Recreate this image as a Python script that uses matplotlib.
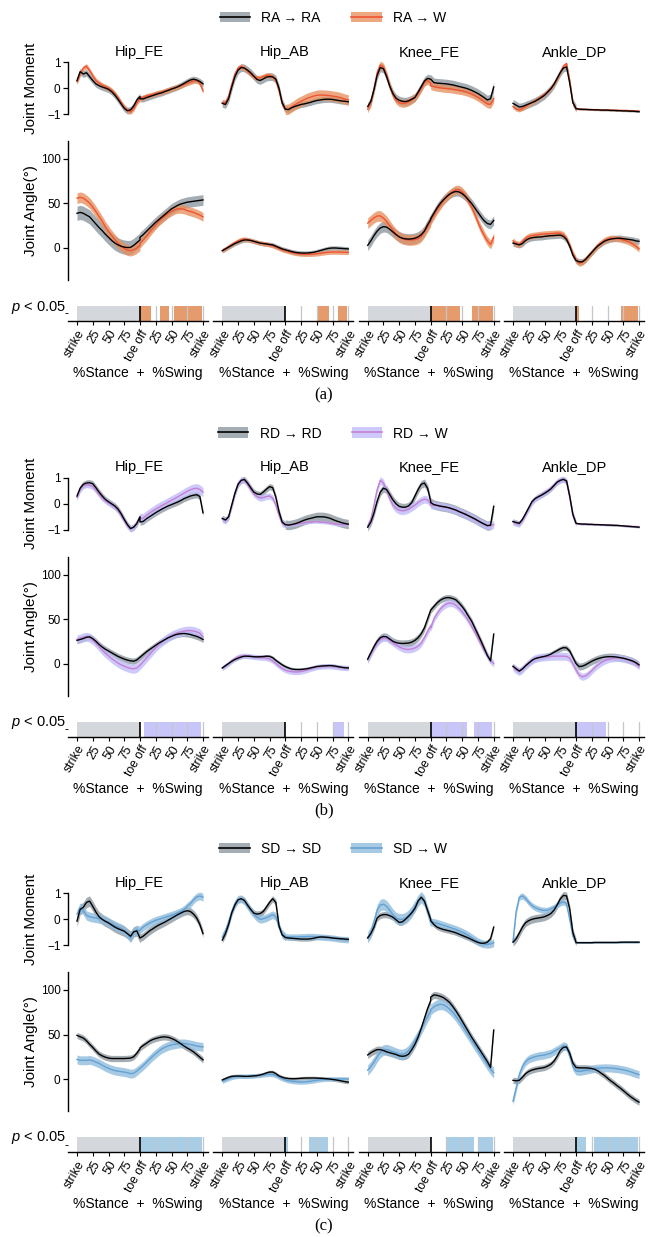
import numpy as np
import matplotlib
matplotlib.use("Agg")
import matplotlib.pyplot as plt
from matplotlib.patches import Patch
from matplotlib.lines import Line2D

plt.rcParams['font.family'] = ['Liberation Sans', 'DejaVu Sans']
plt.rcParams['mathtext.fontset'] = 'custom'
plt.rcParams['mathtext.it'] = 'Liberation Sans:italic'
plt.rcParams['mathtext.rm'] = 'Liberation Sans'

# ---------------------------------------------------------------------------
# Gait-cycle samples: stance 0..100 %, swing 100..200 % (every 5 %)
# Each curve lists 21 stance values followed by 21 swing values.
# ---------------------------------------------------------------------------
STANCE = np.arange(0, 101, 5)
SWING = np.arange(100, 201, 5)
PHASE = np.concatenate([STANCE, SWING])

JOINTS = ["Hip_FE", "Hip_AB", "Knee_FE", "Ankle_DP"]
TICK_POS = [0, 25, 50, 75, 100, 125, 150, 175, 200]
TICK_LABELS = ["strike", "25", "50", "75", "toe off", "25", "50", "75", "strike"]

# ----------------------------- (a) ramp ascent -----------------------------
ra_hip_fe_mom_ref = [0.30, 0.64, 0.55, 0.60, 0.45, 0.30, 0.17, 0.10, 0.05, 0.01, -0.04, -0.13, -0.26, -0.42, -0.60, -0.77, -0.86, -0.83, -0.68, -0.45, -0.32,
                     -0.40, -0.41, -0.36, -0.32, -0.28, -0.24, -0.20, -0.17, -0.12, -0.08, -0.03, 0.01, 0.06, 0.12, 0.19, 0.26, 0.32, 0.35, 0.32, 0.26, 0.17]
ra_hip_fe_mom_w = [0.25, 0.55, 0.78, 0.85, 0.68, 0.48, 0.30, 0.20, 0.12, 0.06, 0.00, -0.08, -0.20, -0.36, -0.55, -0.72, -0.86, -0.90, -0.78, -0.55, -0.40,
                   -0.38, -0.35, -0.30, -0.27, -0.24, -0.20, -0.17, -0.14, -0.10, -0.06, -0.02, 0.02, 0.06, 0.10, 0.15, 0.20, 0.24, 0.28, 0.30, 0.20, -0.10]
ra_hip_ab_mom_ref = [-0.58, -0.62, -0.40, 0.05, 0.45, 0.70, 0.80, 0.78, 0.70, 0.60, 0.47, 0.34, 0.30, 0.36, 0.43, 0.45, 0.44, 0.35, 0.00, -0.55, -0.80,
                     -0.80, -0.82, -0.75, -0.70, -0.66, -0.62, -0.60, -0.57, -0.54, -0.50, -0.47, -0.45, -0.43, -0.42, -0.42, -0.43, -0.45, -0.47, -0.49, -0.50, -0.52]
ra_hip_ab_mom_w = [-0.55, -0.55, -0.30, 0.15, 0.55, 0.78, 0.84, 0.78, 0.66, 0.55, 0.45, 0.40, 0.40, 0.45, 0.50, 0.50, 0.45, 0.30, -0.10, -0.60, -0.82,
                   -0.82, -0.80, -0.72, -0.64, -0.56, -0.50, -0.44, -0.38, -0.34, -0.30, -0.27, -0.26, -0.26, -0.27, -0.28, -0.30, -0.32, -0.34, -0.38, -0.42, -0.45]
ra_knee_fe_mom_ref = [-0.70, -0.50, -0.05, 0.50, 0.80, 0.75, 0.45, 0.08, -0.20, -0.38, -0.46, -0.50, -0.51, -0.48, -0.42, -0.35, -0.15, 0.06, 0.28, 0.38, 0.35,
                      0.35, 0.22, 0.20, 0.19, 0.18, 0.17, 0.15, 0.13, 0.10, 0.07, 0.04, 0.01, -0.03, -0.08, -0.14, -0.20, -0.28, -0.36, -0.45, -0.40, 0.05]
ra_knee_fe_mom_w = [-0.80, -0.55, 0.00, 0.60, 0.90, 0.82, 0.50, 0.10, -0.25, -0.45, -0.55, -0.58, -0.57, -0.52, -0.45, -0.35, -0.20, 0.00, 0.22, 0.30, 0.20,
                    0.10, 0.06, 0.04, 0.02, 0.00, -0.01, -0.02, -0.04, -0.06, -0.08, -0.10, -0.13, -0.17, -0.22, -0.28, -0.35, -0.43, -0.52, -0.60, -0.62, -0.40]
ra_ankle_dp_mom_ref = [-0.58, -0.65, -0.72, -0.70, -0.65, -0.60, -0.55, -0.50, -0.43, -0.35, -0.27, -0.15, -0.02, 0.15, 0.38, 0.60, 0.78, 0.82, 0.20, -0.55, -0.77,
                       -0.78, -0.80, -0.81, -0.81, -0.82, -0.82, -0.83, -0.83, -0.84, -0.84, -0.84, -0.85, -0.85, -0.86, -0.86, -0.87, -0.87, -0.88, -0.88, -0.89, -0.90]
ra_ankle_dp_mom_w = [-0.70, -0.80, -0.83, -0.78, -0.70, -0.62, -0.55, -0.48, -0.40, -0.32, -0.23, -0.12, 0.00, 0.15, 0.35, 0.60, 0.85, 0.95, 0.30, -0.55, -0.80,
                     -0.80, -0.80, -0.80, -0.81, -0.81, -0.82, -0.82, -0.82, -0.83, -0.83, -0.83, -0.84, -0.84, -0.84, -0.85, -0.85, -0.85, -0.86, -0.86, -0.87, -0.87]

ra_hip_fe_ang_ref = [39, 40, 39, 37, 35, 31, 27, 23, 19.5, 15.5, 12, 8.5, 5.6, 3.5, 2, 1, 0.5, 0.7, 3, 6, 9,
                     12, 15, 18.5, 22, 25.5, 29, 32, 35, 38, 41, 44, 46, 48, 49.5, 50.5, 51.5, 52, 52.5, 53, 53.5, 54]
ra_hip_fe_ang_w = [56, 57, 56, 53.5, 50.5, 46, 41, 35.5, 30, 24, 18.7, 14, 9.5, 5.5, 2, -0.5, -2.5, -3, -2, 0, 3,
                   5, 9, 13, 17.5, 22, 26, 30, 33, 36, 39, 41, 43, 44, 44, 43.5, 42, 41, 40, 38.5, 37, 35]
ra_hip_ab_ang_ref = [-3, -1, 1, 3, 5, 6.5, 8, 9, 9, 8.5, 7.5, 6.5, 5.5, 5, 4.5, 4, 3.5, 2, 0.5, -1, -2,
                     -2, -3, -4, -4.8, -5.3, -5.6, -5.7, -5.6, -5.3, -4.8, -4, -3, -2, -1, -0.3, 0, 0, -0.3, -0.5, -0.8, -1]
ra_hip_ab_ang_w = [-3, -1, 1.5, 4, 6, 8, 9.5, 10, 9.5, 8.5, 7.5, 6.5, 5.5, 5, 4.5, 3.5, 2.5, 1, -0.5, -2, -3,
                   -3, -4, -5, -5.8, -6.4, -6.8, -7, -7, -7, -6.8, -6.5, -6, -5.5, -5, -4.7, -4.5, -4.5, -4.6, -4.7, -4.8, -5]
ra_knee_fe_ang_ref = [3, 8, 14, 19, 22.5, 24, 23.5, 21, 18, 15, 12.5, 11, 10.3, 10, 10.3, 11, 12.5, 15, 19, 26, 32,
                      33, 39, 45, 50, 54, 57.5, 60.5, 62.5, 63.5, 63, 61, 58, 54, 50, 45, 40, 35, 30.5, 27.5, 26.5, 31]
ra_knee_fe_ang_w = [28, 31, 34, 36, 36, 33.5, 30, 25, 20, 15.5, 12.5, 10.5, 9.5, 9, 9, 9.5, 10.5, 13, 18, 24, 30,
                    31, 37, 43, 48, 53, 57, 60.5, 63.5, 65.5, 65.5, 63, 59, 53, 46, 38, 29, 21, 14, 8, 4, 12]
ra_ankle_dp_ang_ref = [5.5, 4.5, 3.5, 5, 8.5, 10.5, 11.5, 12, 12.3, 12.5, 13, 13.5, 13.8, 14, 14.3, 14.5, 13, 9.5, 2, -8, -14,
                       -14, -15.5, -15.5, -13, -9, -5, -1, 2.5, 5, 7.5, 9, 10, 10.5, 11, 11, 10.5, 10, 9.5, 9, 8, 7.5]
ra_ankle_dp_ang_w = [8, 4.5, 4, 7.5, 11, 13, 14, 14.5, 15, 15.5, 15.8, 16, 16.2, 16.5, 16.8, 16.5, 15, 10.5, 3, -6, -13,
                     -14, -17, -16, -13, -9, -5, -1, 3, 6, 8.5, 10, 11, 11, 10.5, 10, 9, 8, 6.5, 4.5, 2, -1]

# band half-widths per joint: (stance, swing)
ra_mom_band_ref = [(0.13, 0.12), (0.15, 0.12), (0.16, 0.18), (0.15, 0.03)]
ra_mom_band_w = [(0.10, 0.10), (0.10, 0.20), (0.15, 0.15), (0.08, 0.03)]
ra_ang_band_ref = [(8, 6), (2.5, 2.5), (6, 5), (3.5, 3.5)]
ra_ang_band_w = [(6, 5), (2.5, 2.5), (6, 5), (3.5, 3.5)]
ra_sig = [[(100, 117), (132, 146), (154, 199)], [(150, 170), (184, 198)],
          [(100, 146), (166, 199)], [(100, 104), (172, 199)]]

# ----------------------------- (b) ramp descent ----------------------------
rd_hip_fe_mom_ref = [0.30, 0.60, 0.75, 0.80, 0.81, 0.77, 0.62, 0.45, 0.30, 0.17, 0.08, 0.00, -0.08, -0.20, -0.38, -0.60, -0.80, -0.95, -0.90, -0.76, -0.50,
                     -0.70, -0.68, -0.58, -0.50, -0.42, -0.34, -0.27, -0.20, -0.14, -0.08, -0.03, 0.02, 0.07, 0.13, 0.20, 0.25, 0.30, 0.33, 0.35, 0.28, -0.35]
rd_hip_fe_mom_w = [0.25, 0.55, 0.70, 0.74, 0.72, 0.66, 0.52, 0.36, 0.22, 0.12, 0.04, -0.04, -0.13, -0.26, -0.45, -0.65, -0.85, -0.97, -0.90, -0.72, -0.50,
                   -0.55, -0.55, -0.45, -0.36, -0.28, -0.20, -0.13, -0.06, 0.00, 0.07, 0.14, 0.20, 0.27, 0.34, 0.41, 0.48, 0.54, 0.58, 0.60, 0.55, 0.45]
rd_hip_ab_mom_ref = [-0.56, -0.62, -0.50, -0.05, 0.40, 0.75, 0.90, 0.94, 0.80, 0.62, 0.45, 0.38, 0.36, 0.45, 0.56, 0.66, 0.62, 0.25, -0.30, -0.70, -0.80,
                     -0.80, -0.82, -0.80, -0.77, -0.73, -0.68, -0.63, -0.59, -0.56, -0.53, -0.50, -0.50, -0.50, -0.52, -0.55, -0.60, -0.65, -0.69, -0.73, -0.76, -0.78]
rd_hip_ab_mom_w = [-0.60, -0.65, -0.50, -0.05, 0.42, 0.78, 0.92, 0.90, 0.75, 0.55, 0.38, 0.28, 0.22, 0.24, 0.28, 0.30, 0.22, -0.05, -0.45, -0.75, -0.82,
                   -0.82, -0.82, -0.80, -0.79, -0.77, -0.75, -0.73, -0.71, -0.70, -0.69, -0.69, -0.70, -0.71, -0.72, -0.74, -0.76, -0.78, -0.79, -0.80, -0.80, -0.80]
rd_knee_fe_mom_ref = [-0.90, -0.70, -0.35, 0.10, 0.45, 0.60, 0.55, 0.35, 0.15, 0.00, -0.10, -0.13, -0.13, -0.08, 0.05, 0.30, 0.55, 0.75, 0.80, 0.60, 0.10,
                      0.05, -0.03, -0.06, -0.09, -0.11, -0.13, -0.16, -0.20, -0.24, -0.30, -0.35, -0.40, -0.46, -0.52, -0.58, -0.65, -0.72, -0.78, -0.84, -0.82, -0.10]
rd_knee_fe_mom_w = [-0.85, -0.60, -0.05, 0.55, 0.90, 0.80, 0.50, 0.20, -0.05, -0.18, -0.25, -0.27, -0.25, -0.20, -0.13, -0.05, 0.05, 0.13, 0.18, 0.15, 0.00,
                    -0.05, -0.05, -0.07, -0.09, -0.11, -0.14, -0.17, -0.21, -0.25, -0.30, -0.35, -0.41, -0.47, -0.53, -0.60, -0.67, -0.73, -0.79, -0.84, -0.85, -0.80]
rd_ankle_dp_mom_ref = [-0.68, -0.72, -0.75, -0.60, -0.38, -0.15, 0.08, 0.20, 0.27, 0.33, 0.40, 0.48, 0.57, 0.70, 0.83, 0.90, 0.94, 0.88, 0.30, -0.40, -0.75,
                       -0.75, -0.77, -0.78, -0.78, -0.79, -0.79, -0.80, -0.80, -0.81, -0.81, -0.82, -0.82, -0.83, -0.83, -0.84, -0.85, -0.86, -0.87, -0.88, -0.89, -0.90]
rd_ankle_dp_mom_w = [-0.70, -0.75, -0.78, -0.62, -0.40, -0.18, 0.05, 0.18, 0.27, 0.35, 0.43, 0.50, 0.60, 0.72, 0.85, 0.92, 0.95, 0.85, 0.25, -0.45, -0.76,
                     -0.76, -0.77, -0.78, -0.78, -0.79, -0.79, -0.80, -0.80, -0.80, -0.81, -0.81, -0.82, -0.82, -0.83, -0.84, -0.85, -0.86, -0.86, -0.87, -0.87, -0.88]

rd_hip_fe_ang_ref = [26, 27, 28, 29.5, 30, 28, 25, 21.5, 18.5, 16, 14, 12, 10, 8, 6.5, 5, 3.8, 3, 2.6, 4, 7,
                     7, 10, 13, 15.5, 18, 20.5, 23, 25, 27, 29, 30.5, 32, 33, 33.5, 33.7, 33.3, 32.6, 31.5, 30.5, 29, 27]
rd_hip_fe_ang_w = [27, 28, 29.5, 30, 29, 26.5, 23, 19, 15, 11.5, 8.5, 5.5, 3, 0.5, -1.5, -3, -4.5, -5.5, -6, -5, -2,
                   -2, 2, 6, 10, 14, 18, 21.5, 24.5, 27, 29.5, 31.5, 33, 34.5, 35.5, 36.5, 37, 37, 36.5, 35.5, 34, 30]
rd_hip_ab_ang_ref = [-5, -2.5, 0, 2.5, 4.5, 6, 7.3, 8.2, 8.2, 8, 7.6, 7.5, 7.6, 7.8, 8.2, 8, 6.5, 3.5, 1, -1.5, -3.5,
                     -3.5, -5, -6.2, -6.7, -6.8, -6.7, -6.3, -5.8, -5, -4.2, -3.4, -3, -2.7, -2.5, -2.3, -2.5, -3, -3.7, -4.3, -4.8, -5]
rd_hip_ab_ang_w = [-5, -2.5, 0, 3, 5.5, 7.5, 8.5, 8.7, 8.5, 8, 7.5, 7, 6.7, 6.5, 6, 5, 3, 0, -3, -5.5, -7.5,
                   -7.5, -8.5, -9.2, -9.5, -9.5, -9, -8.2, -7.2, -6, -5, -4, -3.5, -3.2, -3, -3, -3.3, -3.8, -4.3, -4.8, -5, -5]
rd_knee_fe_ang_ref = [5, 12, 19, 25, 29, 30.5, 30, 27.5, 25, 23.5, 22.7, 22.5, 22.7, 23, 24, 26, 29, 33.5, 40, 50, 60,
                      60, 64, 68, 71, 73, 74, 74, 73, 71.5, 68, 64, 59, 53, 47.5, 40, 32.5, 25, 17, 9, 3, 33]
rd_knee_fe_ang_w = [4, 11, 17.5, 23, 27, 29, 28.5, 26, 23.5, 21, 18.7, 17, 16, 15.8, 16.3, 17.5, 19.5, 23, 29, 36, 42,
                    40, 50, 56, 61, 64.5, 67, 68, 67.5, 65.5, 62, 58, 53.5, 48, 42, 35.5, 28.5, 21.5, 14.5, 8.5, 3.5, 0]
rd_ankle_dp_ang_ref = [-3, -6, -8.5, -6, -2.5, 0.5, 3.5, 5.5, 6.5, 7.3, 8, 9, 10.5, 12.5, 14.5, 16.5, 17.8, 17.5, 14, 7, 0,
                       0, -3.5, -3, -1.5, 0.5, 2.5, 4.2, 5.5, 6.5, 7.2, 7.6, 7.7, 7.6, 7.2, 6.6, 6, 5, 4, 2.8, 1, -1.5]
rd_ankle_dp_ang_w = [-4, -7, -9, -6.5, -2.5, 0.5, 3.5, 5.5, 6.5, 7, 7.5, 7.8, 8, 8.2, 8.3, 8.3, 8.2, 8, 6, 0, -7,
                     -7, -13, -15, -14, -11.5, -8, -4.5, -1.5, 1, 3, 4.5, 5.5, 6, 6.2, 6, 5.5, 4.5, 3.5, 2, 0, -3]

rd_mom_band_ref = [(0.12, 0.12), (0.12, 0.18), (0.15, 0.18), (0.10, 0.03)]
rd_mom_band_w = [(0.12, 0.18), (0.12, 0.06), (0.15, 0.15), (0.12, 0.03)]
rd_ang_band_ref = [(3.5, 3.5), (2, 2), (4, 3.5), (3, 4)]
rd_ang_band_w = [(5, 5), (3, 3), (4, 4), (4.5, 4)]
rd_sig = [[(107, 197)], [(178, 193)], [(100, 158), (168, 197)], [(100, 148)]]

# ----------------------------- (c) stair descent ---------------------------
sd_hip_fe_mom_ref = [-0.07, 0.38, 0.46, 0.65, 0.70, 0.50, 0.28, 0.10, 0.00, -0.08, -0.14, -0.22, -0.30, -0.36, -0.41, -0.46, -0.55, -0.65, -0.48, -0.45, -0.72,
                     -0.72, -0.65, -0.55, -0.45, -0.37, -0.29, -0.22, -0.16, -0.10, -0.03, 0.04, 0.11, 0.18, 0.24, 0.30, 0.33, 0.30, 0.20, 0.05, -0.20, -0.55]
sd_hip_fe_mom_w = [0.20, 0.45, 0.35, 0.15, 0.10, 0.07, 0.05, 0.03, 0.00, -0.05, -0.12, -0.18, -0.24, -0.30, -0.35, -0.42, -0.55, -0.72, -0.50, -0.40, -0.45,
                   -0.40, -0.30, -0.22, -0.15, -0.09, -0.04, 0.00, 0.04, 0.08, 0.12, 0.16, 0.20, 0.25, 0.30, 0.38, 0.50, 0.60, 0.75, 0.86, 0.90, 0.85]
sd_hip_ab_mom_ref = [-0.80, -0.55, -0.20, 0.25, 0.55, 0.75, 0.79, 0.73, 0.55, 0.38, 0.24, 0.20, 0.22, 0.30, 0.47, 0.65, 0.79, 0.65, -0.25, -0.60, -0.70,
                     -0.70, -0.72, -0.73, -0.74, -0.75, -0.76, -0.76, -0.76, -0.75, -0.73, -0.70, -0.68, -0.68, -0.69, -0.70, -0.72, -0.73, -0.74, -0.75, -0.76, -0.77]
sd_hip_ab_mom_w = [-0.68, -0.45, -0.10, 0.30, 0.60, 0.77, 0.79, 0.70, 0.52, 0.35, 0.20, 0.07, 0.00, 0.02, 0.06, 0.12, 0.18, 0.10, -0.30, -0.55, -0.66,
                   -0.66, -0.68, -0.68, -0.68, -0.68, -0.67, -0.67, -0.66, -0.66, -0.66, -0.67, -0.68, -0.69, -0.70, -0.71, -0.72, -0.74, -0.76, -0.77, -0.78, -0.79]
sd_knee_fe_mom_ref = [-0.72, -0.55, -0.30, 0.05, 0.15, 0.18, 0.18, 0.14, 0.08, -0.02, -0.12, -0.10, 0.00, 0.12, 0.25, 0.42, 0.70, 0.85, 0.70, 0.35, 0.00,
                      -0.05, -0.20, -0.30, -0.35, -0.39, -0.42, -0.45, -0.48, -0.52, -0.57, -0.62, -0.67, -0.72, -0.78, -0.84, -0.89, -0.92, -0.92, -0.88, -0.75, -0.30]
sd_knee_fe_mom_w = [-0.70, -0.50, -0.10, 0.35, 0.55, 0.58, 0.50, 0.35, 0.18, 0.05, 0.00, 0.00, 0.05, 0.15, 0.30, 0.50, 0.72, 0.85, 0.70, 0.30, -0.10,
                    -0.10, -0.12, -0.15, -0.19, -0.23, -0.27, -0.31, -0.35, -0.39, -0.44, -0.49, -0.55, -0.62, -0.70, -0.78, -0.86, -0.92, -0.95, -0.96, -0.95, -0.90]
sd_ankle_dp_mom_ref = [-0.88, -0.75, -0.53, -0.30, -0.13, -0.05, 0.00, 0.03, 0.05, 0.07, 0.10, 0.15, 0.22, 0.35, 0.55, 0.78, 0.92, 0.90, 0.40, -0.50, -0.88,
                       -0.90, -0.90, -0.90, -0.90, -0.90, -0.90, -0.89, -0.89, -0.89, -0.89, -0.89, -0.89, -0.89, -0.89, -0.88, -0.88, -0.88, -0.88, -0.88, -0.88, -0.88]
sd_ankle_dp_mom_w = [-0.85, 0.30, 0.85, 0.90, 0.80, 0.65, 0.53, 0.45, 0.40, 0.36, 0.34, 0.35, 0.40, 0.46, 0.55, 0.63, 0.67, 0.60, 0.00, -0.65, -0.88,
                     -0.88, -0.89, -0.89, -0.89, -0.89, -0.89, -0.89, -0.89, -0.89, -0.89, -0.89, -0.89, -0.89, -0.89, -0.89, -0.88, -0.88, -0.88, -0.88, -0.88, -0.88]

sd_hip_fe_ang_ref = [49, 47.5, 46, 43, 39, 35.5, 31.5, 28, 26, 24.5, 23.5, 23, 23, 23, 23, 23, 23.2, 23.5, 25, 29, 34,
                     35, 37.6, 40, 42.5, 44.3, 45.5, 46.5, 47.2, 47.3, 46.8, 45.6, 44, 41.8, 39.5, 37, 34.8, 32.8, 30.5, 27.5, 24.5, 21.5]
sd_hip_fe_ang_w = [22, 21, 21, 21, 21.5, 20.5, 19, 17.5, 15.5, 13.5, 12, 10.5, 9.5, 8.8, 8.3, 7.8, 7, 6, 6.5, 9, 12,
                   12, 15, 18.5, 22, 25.5, 28.5, 31.5, 34, 35.8, 37.3, 38.3, 39, 39.6, 40, 40, 39.5, 38.7, 38, 37, 36.5, 36]
sd_hip_ab_ang_ref = [-1, 0.5, 2, 3, 3.3, 3.3, 3.2, 3, 3, 3.2, 3.5, 3.8, 4.5, 5.5, 6.8, 7.8, 7.8, 6, 3.5, 2, 1,
                     1, 0.5, 0.3, 0.3, 0.5, 0.8, 1, 1.1, 1.1, 1.1, 1, 0.8, 0.6, 0.3, 0, -0.5, -1, -1.6, -2.3, -3, -3.5]
sd_hip_ab_ang_w = [-2.5, -1, 0.5, 1.8, 2.6, 3, 3.1, 3.1, 3.2, 3.4, 3.6, 3.9, 4.2, 4.6, 5, 5.2, 5, 3.8, 2, 0.3, -1,
                   -1, -2, -2.6, -3, -3.3, -3.4, -3.3, -3, -2.6, -2, -1.4, -0.9, -0.5, -0.2, 0, 0.1, 0.1, 0.1, 0.1, 0.1, 0]
sd_knee_fe_ang_ref = [27, 29.5, 31.5, 33, 33, 32, 30.5, 29.5, 28.5, 27.5, 26, 25.5, 26, 28, 33, 39, 47, 57, 68, 79, 88,
                      92, 94.5, 94, 93, 91.5, 89, 86, 81.5, 76.5, 71, 65, 59, 53, 47, 41.5, 36, 30.5, 25, 19.5, 13, 55]
sd_knee_fe_ang_w = [10, 14, 19, 25, 30, 32.5, 33, 32, 30.5, 29, 27.8, 27.5, 29, 32, 37, 43, 49, 56, 63, 70, 76,
                    78, 81, 83, 84, 83.5, 81.5, 78.5, 75, 70.5, 65.5, 60, 54.5, 49, 43.5, 38, 32.5, 27, 21.5, 16, 11, 7]
sd_ankle_dp_ang_ref = [-1.5, -2, -1.5, 2, 6, 8.5, 10, 11, 11.8, 12.3, 13, 14.5, 16.5, 20, 25.5, 32, 35.5, 36, 29, 18, 13,
                       13, 12.5, 12.5, 12.5, 12.3, 11.8, 10.8, 9, 6.5, 4, 1, -2, -4.5, -7.5, -10, -13, -16, -19, -21.5, -24, -26]
sd_ankle_dp_ang_w = [-25, -10, 5, 14, 19.5, 22.5, 24, 25, 26, 26.5, 27, 28, 29, 31, 33, 35, 37.5, 36, 26, 14, 9,
                     9, 8.5, 9, 9.8, 10.5, 11.2, 11.8, 12.2, 12.4, 12.5, 12.5, 12.3, 12, 11.6, 11, 10.3, 9.5, 8.5, 7.3, 6, 5]

sd_mom_band_ref = [(0.20, 0.15), (0.12, 0.08), (0.12, 0.10), (0.15, 0.03)]
sd_mom_band_w = [(0.18, 0.15), (0.15, 0.12), (0.22, 0.15), (0.12, 0.03)]
sd_ang_band_ref = [(3.5, 3.5), (2, 2), (4, 4), (3.5, 3.5)]
sd_ang_band_w = [(5, 5), (2.5, 2.5), (6, 6), (4.5, 4.5)]
sd_sig = [[(100, 199)], [(100, 104), (138, 168)], [(125, 168), (176, 199)], [(100, 116), (128, 199)]]

# ---------------------------------------------------------------------------
TASKS = [
    dict(tag="RA", caption="(a)",
         mom_ref=[ra_hip_fe_mom_ref, ra_hip_ab_mom_ref, ra_knee_fe_mom_ref, ra_ankle_dp_mom_ref],
         mom_w=[ra_hip_fe_mom_w, ra_hip_ab_mom_w, ra_knee_fe_mom_w, ra_ankle_dp_mom_w],
         ang_ref=[ra_hip_fe_ang_ref, ra_hip_ab_ang_ref, ra_knee_fe_ang_ref, ra_ankle_dp_ang_ref],
         ang_w=[ra_hip_fe_ang_w, ra_hip_ab_ang_w, ra_knee_fe_ang_w, ra_ankle_dp_ang_w],
         mom_band_ref=ra_mom_band_ref, mom_band_w=ra_mom_band_w,
         ang_band_ref=ra_ang_band_ref, ang_band_w=ra_ang_band_w, sig=ra_sig,
         band="#e6905e", line="#ef5434", strip="#e59b6c"),
    dict(tag="RD", caption="(b)",
         mom_ref=[rd_hip_fe_mom_ref, rd_hip_ab_mom_ref, rd_knee_fe_mom_ref, rd_ankle_dp_mom_ref],
         mom_w=[rd_hip_fe_mom_w, rd_hip_ab_mom_w, rd_knee_fe_mom_w, rd_ankle_dp_mom_w],
         ang_ref=[rd_hip_fe_ang_ref, rd_hip_ab_ang_ref, rd_knee_fe_ang_ref, rd_ankle_dp_ang_ref],
         ang_w=[rd_hip_fe_ang_w, rd_hip_ab_ang_w, rd_knee_fe_ang_w, rd_ankle_dp_ang_w],
         mom_band_ref=rd_mom_band_ref, mom_band_w=rd_mom_band_w,
         ang_band_ref=rd_ang_band_ref, ang_band_w=rd_ang_band_w, sig=rd_sig,
         band="#bfbcfa", line="#c67fd2", strip="#c8c5f8"),
    dict(tag="SD", caption="(c)",
         mom_ref=[sd_hip_fe_mom_ref, sd_hip_ab_mom_ref, sd_knee_fe_mom_ref, sd_ankle_dp_mom_ref],
         mom_w=[sd_hip_fe_mom_w, sd_hip_ab_mom_w, sd_knee_fe_mom_w, sd_ankle_dp_mom_w],
         ang_ref=[sd_hip_fe_ang_ref, sd_hip_ab_ang_ref, sd_knee_fe_ang_ref, sd_ankle_dp_ang_ref],
         ang_w=[sd_hip_fe_ang_w, sd_hip_ab_ang_w, sd_knee_fe_ang_w, sd_ankle_dp_ang_w],
         mom_band_ref=sd_mom_band_ref, mom_band_w=sd_mom_band_w,
         ang_band_ref=sd_ang_band_ref, ang_band_w=sd_ang_band_w, sig=sd_sig,
         band="#8fbcdd", line="#64a1d3", strip="#a8cde5"),
]

REF_BAND = "#969fa7"
REF_ALPHA = 0.85
W_ALPHA = 0.78
STANCE_GRAY = "#d4d7db"

# ------------------------------ layout (pixels) ----------------------------
FIG_W, FIG_H = 648, 1237
fig = plt.figure(figsize=(FIG_W / 100, FIG_H / 100), dpi=100)

COL_X0 = [77.0, 222.3, 367.7, 513.0]  # pixel of 0 % in each column
PX_PER_PCT = 0.63
XLIM = (-14, 208)
BLOCK_TOP = [0.0, 415.5, 831.0]

MOM_LIM = (-1.15, 1.15)
MOM_PX = 26.0      # px per moment unit
MOM_ZERO = 88.3
ANG_LIM = (-36, 120)
ANG_PX = 0.89      # px per degree
ANG_ZERO = 248.0


def fx(px):
    return px / FIG_W


def fy(py):
    return 1 - py / FIG_H


def add_px_axes(left, top, width, height):
    return fig.add_axes([left / FIG_W, 1 - (top + height) / FIG_H, width / FIG_W, height / FIG_H])


def band_array(pair):
    return np.concatenate([np.full(len(STANCE), pair[0]), np.full(len(SWING), pair[1])])


def draw_curves(ax, ref, w, band_ref, band_w, task):
    ref = np.asarray(ref, float)
    w = np.asarray(w, float)
    br = band_array(band_ref)
    bw = band_array(band_w)
    ax.fill_between(PHASE, ref - br, ref + br, color=REF_BAND, alpha=REF_ALPHA, lw=0)
    ax.fill_between(PHASE, w - bw, w + bw, color=task["band"], alpha=W_ALPHA, lw=0)
    ax.plot(PHASE, w, color=task["line"], lw=1.0)
    ax.plot(PHASE, ref, color="black", lw=1.0)


def clear_axes(ax):
    for s in ax.spines.values():
        s.set_visible(False)
    ax.set_xticks([])
    ax.set_yticks([])


for task, o in zip(TASKS, BLOCK_TOP):
    ax_w = (XLIM[1] - XLIM[0]) * PX_PER_PCT
    for j, joint in enumerate(JOINTS):
        x0 = COL_X0[j]
        left = x0 + XLIM[0] * PX_PER_PCT

        # joint moment row
        top = MOM_ZERO - MOM_LIM[1] * MOM_PX + o
        axm = add_px_axes(left, top, ax_w, (MOM_LIM[1] - MOM_LIM[0]) * MOM_PX)
        axm.set_xlim(XLIM)
        axm.set_ylim(MOM_LIM)
        axm.patch.set_alpha(0)
        draw_curves(axm, task["mom_ref"][j], task["mom_w"][j],
                    task["mom_band_ref"][j], task["mom_band_w"][j], task)
        clear_axes(axm)
        fig.text(fx(x0 + 62), fy(52 + o), joint, ha="center", va="center", fontsize=10.5)

        # joint angle row
        top = ANG_ZERO - ANG_LIM[1] * ANG_PX + o
        axa = add_px_axes(left, top, ax_w, (ANG_LIM[1] - ANG_LIM[0]) * ANG_PX)
        axa.set_xlim(XLIM)
        axa.set_ylim(ANG_LIM)
        axa.patch.set_alpha(0)
        draw_curves(axa, task["ang_ref"][j], task["ang_w"][j],
                    task["ang_band_ref"][j], task["ang_band_w"][j], task)
        clear_axes(axa)

        if j == 0:
            for ax_, ticks, labels in [(axm, [-1, 0, 1], ["\u22121", "0", "1"]),
                                       (axa, [0, 50, 100], ["0", "50", "100"])]:
                ax_.spines["left"].set_visible(True)
                ax_.spines["left"].set_linewidth(1.0)
                ax_.set_yticks(ticks)
                ax_.set_yticklabels(labels)
                ax_.tick_params(axis="y", length=3.5, width=0.9, labelsize=8.5, pad=2)
            axm.spines["left"].set_bounds(-1, 1)

        # significance strip
        axs = add_px_axes(left, 306 + o, ax_w, 15)
        axs.set_xlim(XLIM)
        axs.set_ylim(0, 1)
        axs.axvspan(0, 100, color=STANCE_GRAY, lw=0)
        for a, b in task["sig"][j]:
            axs.axvspan(a, b, color=task["strip"], lw=0)
        for xt in [125, 150, 175, 200]:
            axs.axvline(xt, color="#c3c7cc", lw=0.9)
        axs.axvline(100, color="black", lw=1.2)
        for name in ["left", "right", "top"]:
            axs.spines[name].set_visible(False)
        axs.spines["bottom"].set_linewidth(1.0)
        axs.set_xticks(TICK_POS)
        axs.set_xticklabels(TICK_LABELS, rotation=60, ha="right", va="top",
                            rotation_mode="anchor")
        axs.tick_params(axis="x", length=3, width=0.8, labelsize=8.8, pad=2)
        if j == 0:
            axs.set_yticks([0.5])
            axs.set_yticklabels([""])
            axs.tick_params(axis="y", length=2, width=0.6)
        else:
            axs.set_yticks([])

        fig.text(fx(x0 + 61), fy(373 + o), "%Stance  +  %Swing", ha="center",
                 va="center", fontsize=10)

    # row labels
    fig.text(fx(31), fy(MOM_ZERO + o), "Joint Moment", rotation=90, ha="center",
             va="center", fontsize=11)
    fig.text(fx(31), fy(211 + o), "Joint Angle(\u00b0)", rotation=90, ha="center",
             va="center", fontsize=11)
    fig.text(fx(66), fy(307 + o), "$p$ < 0.05", ha="right", va="center", fontsize=10.5)

    # legend
    handles = [(Patch(facecolor=REF_BAND, alpha=REF_ALPHA, edgecolor="none"),
                Line2D([], [], color="black", lw=1.2)),
               (Patch(facecolor=task["band"], alpha=W_ALPHA, edgecolor="none"),
                Line2D([], [], color=task["line"], lw=1.2))]
    labels = [f"{task['tag']} \u2192 {task['tag']}", f"{task['tag']} \u2192 W"]
    fig.legend(handles, labels, loc="center", bbox_to_anchor=(fx(333), fy(18 + o)),
               ncol=2, frameon=False, fontsize=10, handlelength=2.2, handleheight=0.8,
               handletextpad=0.8, columnspacing=2.2, borderpad=0)

    fig.text(fx(324), fy(395 + o), task["caption"], ha="center", va="center",
             fontsize=12, family="Liberation Serif")

fig.savefig("out.png", dpi=100)
